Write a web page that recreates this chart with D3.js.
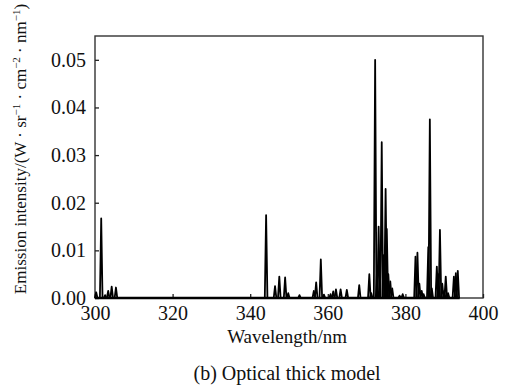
<!DOCTYPE html>
<html>
<head>
<meta charset="utf-8">
<script src="https://cdn.jsdelivr.net/npm/d3@7"></script>
<style>
  html, body { margin: 0; padding: 0; background: #fff; }
  svg { display: block; }
  text { font-family: "Liberation Serif", "Times New Roman", Times, serif; fill: #111; }
</style>
</head>
<body>
<svg id="chart" width="505" height="388"></svg>
<script>
// ---- data ----
const peakWavelengths = [
  300.3, 301.6, 302.6, 303.4, 304.3, 305.4,
  344.1, 346.4, 347.5, 349.0, 349.8, 352.7,
  356.4, 357.0, 358.2, 359.0, 360.7, 361.4, 362.1, 363.3, 364.9, 368.1,
  370.7, 371.2, 372.2, 372.7, 373.1, 373.9, 374.4, 374.9, 375.2, 375.6, 376.1, 376.6,
  378.5, 379.3, 382.6, 383.1, 383.6, 384.2, 384.7,
  385.9, 386.3, 386.8, 388.1, 388.5, 388.9, 389.5, 390.0, 390.4, 391.0,
  392.5, 393.0, 393.5
];
const peakIntensities = [
  0.0012, 0.0167, 0.0006, 0.0015, 0.0024, 0.0022,
  0.0174, 0.0025, 0.0045, 0.0043, 0.0010, 0.0006,
  0.0015, 0.0033, 0.0081, 0.0007, 0.0008, 0.0014, 0.0018, 0.0018, 0.0017, 0.0027,
  0.0050, 0.0010, 0.0500, 0.0060, 0.0150, 0.0327, 0.0090, 0.0229, 0.0145, 0.0050, 0.0035, 0.0020,
  0.0005, 0.0008, 0.0087, 0.0095, 0.0030, 0.0015, 0.0008,
  0.0107, 0.0375, 0.0020, 0.0066, 0.0050, 0.0143, 0.0030, 0.0015, 0.0045, 0.0010,
  0.0045, 0.0052, 0.0057
];
const spectrumRange = [300, 394];
const xTicks = [300, 320, 340, 360, 380, 400];
const yTicks = [0.00, 0.01, 0.02, 0.03, 0.04, 0.05];
const xDomain = [300, 400];
const yDomain = [0, 0.055];

// ---- layout ----
const svg = d3.select("#chart");
const m = { left: 95, right: 22, top: 36, bottom: 90 };
const W = 505, H = 388;
const x = d3.scaleLinear().domain(xDomain).range([m.left, W - m.right]);
const y = d3.scaleLinear().domain(yDomain).range([H - m.bottom, m.top]);

// frame
svg.append("rect")
  .attr("x", x(xDomain[0])).attr("y", y(yDomain[1]))
  .attr("width", x(xDomain[1]) - x(xDomain[0]))
  .attr("height", y(yDomain[0]) - y(yDomain[1]))
  .attr("fill", "none").attr("stroke", "#333").attr("stroke-width", 1.4);

// axes with inward ticks
const xAxis = svg.append("g").attr("transform", `translate(0,${y(0)})`)
  .call(d3.axisBottom(x).tickValues(xTicks).tickSizeInner(-4).tickSizeOuter(0).tickPadding(8).tickFormat(d3.format("d")));
const yAxis = svg.append("g").attr("transform", `translate(${x(300)},0)`)
  .call(d3.axisLeft(y).tickValues(yTicks).tickSizeInner(-4).tickSizeOuter(0).tickPadding(9).tickFormat(d3.format(".2f")));
[xAxis, yAxis].forEach(g => {
  g.select(".domain").remove();
  g.selectAll(".tick line").attr("stroke", "#222").attr("stroke-width", 1.3);
  g.selectAll(".tick text").attr("font-size", 20).attr("fill", "#111")
    .style("font-family", '"Liberation Serif", "Times New Roman", serif');
});

// spectrum: baseline + spikes
const plot = svg.append("g");
plot.append("path")
  .attr("d", d3.line()([[x(spectrumRange[0]), y(0)], [x(spectrumRange[1]), y(0)]]))
  .attr("stroke", "#000").attr("stroke-width", 2.4).attr("fill", "none");
const hw = 1.3;
const spikes = peakWavelengths.map((w, i) => [
  [x(w) - hw, y(0)], [x(w), y(peakIntensities[i])], [x(w) + hw, y(0)]
]);
plot.selectAll("path.spike").data(spikes).join("path")
  .attr("class", "spike")
  .attr("d", d => d3.line()(d))
  .attr("stroke", "#000").attr("stroke-width", 1.8).attr("fill", "none")
  .attr("stroke-linejoin", "round");

// titles
svg.append("text").attr("x", x(349.5)).attr("y", 343)
  .attr("text-anchor", "middle").attr("font-size", 19).text("Wavelength/nm");

svg.append("text").attr("x", x(349.5)).attr("y", 380)
  .attr("text-anchor", "middle").attr("font-size", 20).text("(b) Optical thick model");

const yt = svg.append("text")
  .attr("transform", `translate(26,${y(0) / 2}) rotate(-90)`)
  .attr("text-anchor", "middle").attr("font-size", 17);
const parts = [
  ["Emission intensity/(W · sr", false], ["−1", true], [" · cm", false], ["−2", true],
  [" · nm", false], ["−1", true], [")", false]
];
parts.forEach(([t, sup]) => {
  const ts = yt.append("tspan").text(t);
  if (sup) ts.attr("font-size", 11).attr("baseline-shift", "super");
});
</script>
</body>
</html>
